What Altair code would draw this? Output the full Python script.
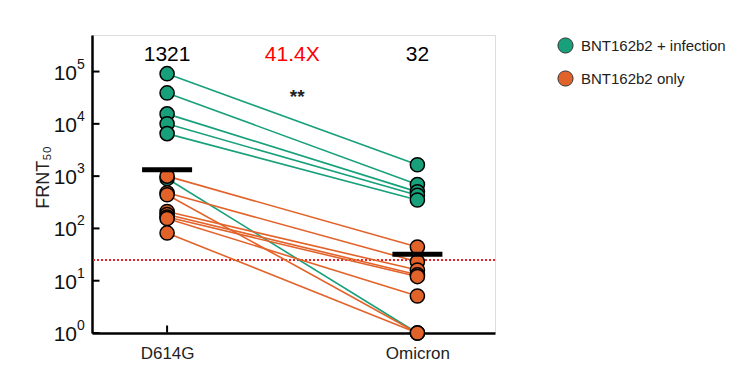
import altair as alt
import pandas as pd

# ---- data ----
groups = ["BNT162b2 + infection"] * 6 + ["BNT162b2 only"] * 8
d614g = [91000, 39000, 15500, 10000, 6500, 900,
         1000, 480, 440, 210, 185, 165, 155, 82]
omicron = [1650, 690, 500, 430, 350, 1,
           44, 23, 1, 16, 13, 12, 5.1, 1]
variants = ["D614G", "Omicron"]
geo_means = [1321, 32]
top_labels = ["1321", "41.4X", "32"]
top_label_x = [0, 0.5, 1]
y_ticks = [1, 10, 100, 1000, 10000, 100000]
y_exps = ["0", "1", "2", "3", "4", "5"]
lod = 25

green = "#17a07a"
orange = "#e2632a"

rows = []
for i, (g, a, b) in enumerate(zip(groups, d614g, omicron)):
    rows.append({"subject": i, "group": g, "xi": 0, "value": a})
    rows.append({"subject": i, "group": g, "xi": 1, "value": b})
df = pd.DataFrame(rows)

gm_df = pd.DataFrame({"xi": [0, 1], "value": geo_means})
txt_df = pd.DataFrame({"xi": top_label_x, "label": top_labels,
                       "value": [2.1e5] * 3,
                       "col": ["black", "red", "black"]})
star_df = pd.DataFrame({"xi": [0.52], "value": [3.2e4], "label": ["**"]})
lod_df = pd.DataFrame({"value": [lod]})
ytick_df = pd.DataFrame({"value": y_ticks, "exp": y_exps, "base": ["10"] * 6})
xtick_df = pd.DataFrame({"xi": [0, 1]})

xscale = alt.Scale(domain=[-0.3, 1.31], nice=False, zero=False)
yscale = alt.Scale(type="log", domain=[1, 5e5], nice=False)
cscale = alt.Scale(domain=["BNT162b2 + infection", "BNT162b2 only"],
                   range=[green, orange])

x_enc = alt.X("xi:Q", scale=xscale, axis=alt.Axis(
    values=[0, 1], title=None, grid=False, domainColor="black",
    domainWidth=2.5, ticks=False,
    labelExpr="datum.value == 0 ? 'D614G' : 'Omicron'",
    labelFont="Liberation Sans", labelFontSize=17, labelColor="#222",
    labelPadding=12))
y_enc = alt.Y("value:Q", scale=yscale, axis=alt.Axis(
    values=y_ticks, grid=False, labels=False,
    title="FRNT₅₀", titleFont="Liberation Sans", titleFontSize=18,
    titleFontWeight="normal", titleColor="#222", titlePadding=40,
    titleY=142,
    domainColor="black", domainWidth=2.5, ticks=False))

lines = alt.Chart(df).mark_line(strokeWidth=1.6).encode(
    x=x_enc, y=y_enc,
    color=alt.Color("group:N", scale=cscale, legend=None),
    detail="subject:N")

points = alt.Chart(df).mark_point(filled=True, size=200, stroke="black",
                                  strokeWidth=1.5, opacity=1).encode(
    x="xi:Q", y="value:Q",
    color=alt.Color("group:N", scale=cscale, legend=alt.Legend(
        title=None, orient="none", legendX=465, legendY=2,
        symbolType="circle", symbolSize=230, symbolStrokeColor="#333",
        symbolStrokeWidth=1, symbolOpacity=1,
        labelFont="Liberation Sans", labelFontSize=15,
        labelColor="#222", rowPadding=12, labelOffset=7)))

yticks = alt.Chart(ytick_df).mark_tick(orient="horizontal", size=7,
                                       thickness=2, color="black",
                                       opacity=1).encode(
    x=alt.value(4), y="value:Q")
ybase = alt.Chart(ytick_df).mark_text(font="Liberation Sans", fontSize=21,
                                      align="right", baseline="middle",
                                      color="#111", dy=2).encode(
    x=alt.value(-15), y="value:Q", text="base:N")
yexp = alt.Chart(ytick_df).mark_text(font="Liberation Sans", fontSize=14,
                                     align="left", baseline="middle",
                                     color="#111", dy=-7).encode(
    x=alt.value(-15), y="value:Q", text="exp:N")
xticks = alt.Chart(xtick_df).mark_tick(orient="vertical", size=7,
                                       thickness=2, color="black",
                                       opacity=1).encode(
    x="xi:Q", y=alt.value(294))

lod_rule = alt.Chart(lod_df).mark_rule(color="#e8202a", strokeWidth=2,
                                       strokeDash=[2, 2]).encode(y="value:Q")

gm = alt.Chart(gm_df).mark_tick(orient="horizontal", size=50, thickness=5,
                                color="black", opacity=1).encode(
    x="xi:Q", y="value:Q")

txt = alt.Chart(txt_df).mark_text(font="Liberation Sans", fontSize=21,
                                  baseline="middle").encode(
    x="xi:Q", y="value:Q", text="label:N",
    color=alt.Color("col:N", scale=None))

star = alt.Chart(star_df).mark_text(font="Liberation Sans", fontSize=19,
                                    fontWeight="bold", baseline="middle",
                                    color="#222").encode(
    x="xi:Q", y="value:Q", text="label:N")

chart = alt.layer(lod_rule, lines, yticks, xticks, ybase, yexp, points, gm,
                  txt, star).resolve_scale(color="independent").resolve_legend(
    color="independent").properties(
    width=403, height=298,
    autosize=alt.AutoSizeParams(type="none"),
    padding={"left": 84, "top": 27, "right": 237, "bottom": 30},
).configure_view(stroke=None).configure(background="white")

chart.save("out.html", embed_options={"renderer": "svg", "actions": False})
